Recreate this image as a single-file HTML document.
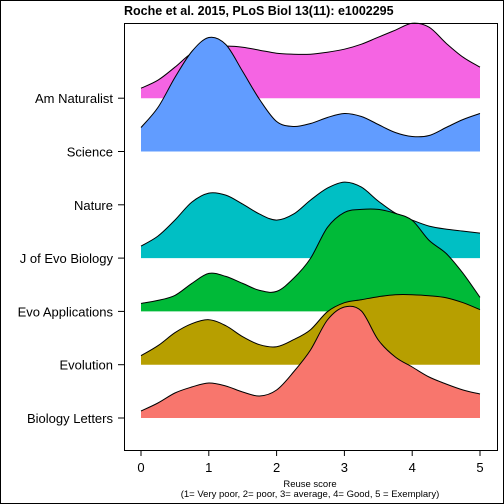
<!DOCTYPE html>
<html><head><meta charset="utf-8"><style>
html,body{margin:0;padding:0;background:#fff}
svg{display:block;font-family:"Liberation Sans",Arial,sans-serif}
</style></head><body>
<svg width="504" height="504" viewBox="0 0 504 504">
<rect x="0.5" y="0.5" width="503" height="503" fill="#fff" stroke="#000"/>
<text x="124" y="15" font-size="12.5" font-weight="bold">Roche et al. 2015, PLoS Biol 13(11): e1002295</text>
<g id="ridges"></g>
<rect x="124.5" y="23.5" width="373" height="427" fill="none" stroke="#000"/>
<g id="yaxis"></g>
<g id="xaxis"></g>
<text x="310" y="487" font-size="9.5" text-anchor="middle">Reuse score</text>
<text x="310" y="497" font-size="9.5" text-anchor="middle">(1= Very poor, 2= poor, 3= average, 4= Good, 5 = Exemplary)</text>
</svg>
<script>
const categories = ["Biology Letters","Evolution","Evo Applications","J of Evo Biology","Nature","Science","Am Naturalist"];
const xTicks = [0,1,2,3,4,5];
const gridX = [0,0.25,0.5,0.75,1,1.25,1.5,1.75,2,2.25,2.5,2.75,3,3.25,3.5,3.75,4,4.25,4.5,4.75,5];
const seriesNames = ["Am Naturalist","Science","J of Evo Biology","Evo Applications","Evolution","Biology Letters"];
const seriesRow = [6,5,3,2,1,0];
const seriesColors = ["#F564E3","#619CFF","#00BFC4","#00BA38","#B79F00","#F8766D"];
const pinkH  = [10,18,31,45,50,52,51,48,45,44,44,46,49,54,61,68,75,71,55,41,31];
const blueH  = [24,44,74,100,114,107,80,52,30,25,28,34,38,35,27,19,15,16,24,32,38];
const cyanH  = [12,22,38,56,65,63,54,44,38,44,58,70,76,71,57,45,38,32,29,27,25];
const greenH = [8,11,16,28,38,35,28,21,20,33,53,84,99,102,102,98,91,71,58,38,14];
const oliveH = [9,19,32,41,45,39,28,20,18,25,35,53,62,65,68,70,70,69,67,62,55];
const redH   = [7,15,25,31,35,32,26,22,28,46,68,98,111,107,78,61,51,41,34,28,24];
const seriesH = [pinkH,blueH,cyanH,greenH,oliveH,redH];
const NS="http://www.w3.org/2000/svg";
const xS = v => 141 + v*67.8;
const rowY = i => 418 - i*53.3;
function path(pts){
  let d="M"+pts[0][0].toFixed(1)+","+pts[0][1].toFixed(1);
  for(let i=0;i<pts.length-1;i++){
    const p0=pts[Math.max(0,i-1)],p1=pts[i],p2=pts[i+1],p3=pts[Math.min(pts.length-1,i+2)];
    const c1=[p1[0]+(p2[0]-p0[0])/6,p1[1]+(p2[1]-p0[1])/6];
    const c2=[p2[0]-(p3[0]-p1[0])/6,p2[1]-(p3[1]-p1[1])/6];
    d+=" C"+c1[0].toFixed(1)+","+c1[1].toFixed(1)+" "+c2[0].toFixed(1)+","+c2[1].toFixed(1)+" "+p2[0].toFixed(1)+","+p2[1].toFixed(1);
  }
  return d;
}
const g=document.getElementById("ridges");
seriesNames.forEach((n,s)=>{
  const base=rowY(seriesRow[s]);
  const pts=gridX.map((x,i)=>[xS(x),base-seriesH[s][i]]);
  const top=path(pts);
  const fill=document.createElementNS(NS,"path");
  fill.setAttribute("d",top+" L"+xS(5)+","+base+" L"+xS(0)+","+base+" Z");
  fill.setAttribute("fill",seriesColors[s]);
  
  
  g.appendChild(fill);
  const line=document.createElementNS(NS,"path");
  line.setAttribute("d",top);
  line.setAttribute("fill","none");
  line.setAttribute("stroke","#000");
  line.setAttribute("stroke-width","1");
  
  
  g.appendChild(line);
});
const ya=document.getElementById("yaxis");
categories.forEach((c,i)=>{
  const y=rowY(i);
  const t=document.createElementNS(NS,"line");
  t.setAttribute("x1",118);t.setAttribute("x2",124);t.setAttribute("y1",y);t.setAttribute("y2",y);t.setAttribute("stroke","#000");
  
  
  ya.appendChild(t);
  const l=document.createElementNS(NS,"text");
  l.setAttribute("x",113);l.setAttribute("y",y+5);l.setAttribute("text-anchor","end");l.setAttribute("font-size","13");
  l.textContent=c;
  
  
  ya.appendChild(l);
});
const xa=document.getElementById("xaxis");
const ax=document.createElementNS(NS,"line");
ax.setAttribute("x1",xS(0));ax.setAttribute("x2",xS(5));ax.setAttribute("y1",450.5);ax.setAttribute("y2",450.5);ax.setAttribute("stroke","#000");


xa.appendChild(ax);
xTicks.forEach(v=>{
  const x=xS(v);
  const t=document.createElementNS(NS,"line");
  t.setAttribute("x1",x);t.setAttribute("x2",x);t.setAttribute("y1",450);t.setAttribute("y2",456);t.setAttribute("stroke","#000");
  
  
  xa.appendChild(t);
  const l=document.createElementNS(NS,"text");
  l.setAttribute("x",x);l.setAttribute("y",472);l.setAttribute("text-anchor","middle");l.setAttribute("font-size","13");
  l.textContent=v;
  
  
  xa.appendChild(l);
});
</script>
</body></html>
